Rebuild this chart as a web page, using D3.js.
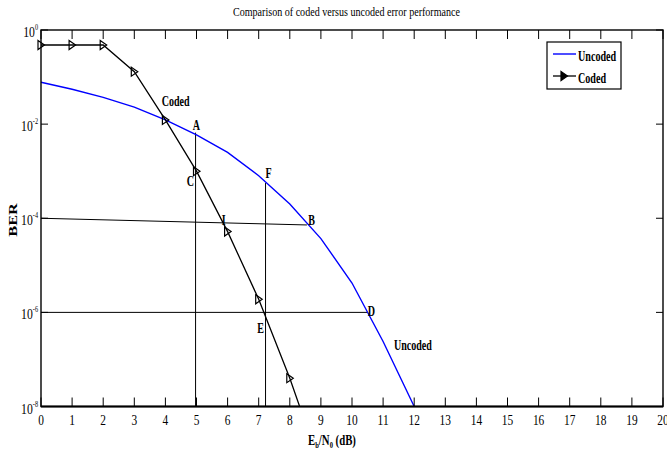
<!DOCTYPE html>
<html>
<head>
<meta charset="utf-8">
<script src="https://d3js.org/d3.v7.min.js"></script>
<style>
  body { margin: 0; background: #fff; }
  svg { display: block; font-family: "Liberation Serif", "Times New Roman", serif; }
</style>
</head>
<body>
<div id="chart"></div>
<script>
// ---- data ----
const ebnoUncoded = [0, 1, 2, 3, 4, 5, 6, 7, 8, 9, 10, 11, 12];
const berUncoded  = [0.0776, 0.055, 0.037, 0.023, 0.0123, 0.0059, 0.0025, 8.0e-4, 2.0e-4, 3.7e-5, 4.2e-6, 2.4e-7, 1.0e-8];

const ebnoCoded = [0, 1, 2, 3, 4, 5, 6, 7, 8, 9];
const berCoded  = [0.48, 0.48, 0.48, 0.13, 0.0123, 1.0e-3, 5.2e-5, 1.9e-6, 4.0e-8, 5.0e-10];

const xTicks = [0, 1, 2, 3, 4, 5, 6, 7, 8, 9, 10, 11, 12, 13, 14, 15, 16, 17, 18, 19, 20];
const yTicks = [1, 1e-2, 1e-4, 1e-6, 1e-8];
const yTickExp = ["0", "-2", "-4", "-6", "-8"];

// guide lines drawn on the chart (data units)
const guideLines = [
  { x1: 0,    y1: 1e-4,   x2: 8.55, y2: 7.2e-5 },
  { x1: 0,    y1: 1e-6,   x2: 10.5, y2: 1e-6 },
  { x1: 4.97, y1: 6.6e-3, x2: 4.97, y2: 1e-8 },
  { x1: 7.22, y1: 5.6e-4, x2: 7.22, y2: 1e-8 }
];

// point labels (data units, left/baseline)
const pointLabels = [
  { t: "Coded",   x: 3.88,  y: 0.0243 },
  { t: "A",       x: 4.88,  y: 7.5e-3 },
  { t: "C",       x: 4.69,  y: 4.9e-4 },
  { t: "F",       x: 7.22,  y: 7.2e-4 },
  { t: "B",       x: 8.59,  y: 7.2e-5 },
  { t: "I",       x: 5.81,  y: 7.2e-5 },
  { t: "E",       x: 6.95,  y: 3.7e-7 },
  { t: "D",       x: 10.51, y: 8.5e-7 },
  { t: "Uncoded", x: 11.35, y: 1.6e-7 }
];

const width = 667, height = 452;
const plot = { left: 41, right: 663, top: 30, bottom: 406.5 };

const svg = d3.select("#chart").append("svg")
  .attr("width", width)
  .attr("height", height);

const x = d3.scaleLinear().domain([0, 20]).range([plot.left, plot.right]);
const y = d3.scaleLog().domain([1e-8, 1]).range([plot.bottom, plot.top]);

// condensed serif text helper
function label(parent, px, py, str, o) {
  o = o || {};
  return parent.append("text")
    .attr("transform", `translate(${px},${py}) scale(${o.sx || 0.67},1)`)
    .attr("text-anchor", o.anchor || "start")
    .attr("font-size", o.size || 15)
    .attr("font-weight", o.weight || "normal")
    .attr("fill", "#000")
    .text(str);
}

svg.append("defs").append("clipPath").attr("id", "clip")
  .append("rect")
  .attr("x", plot.left - 6).attr("y", plot.top)
  .attr("width", plot.right - plot.left + 6)
  .attr("height", plot.bottom - plot.top);

const body = svg.append("g").attr("clip-path", "url(#clip)");

// guide lines
body.selectAll(".guide")
  .data(guideLines)
  .enter().append("line")
  .attr("x1", d => x(d.x1)).attr("y1", d => y(d.y1))
  .attr("x2", d => x(d.x2)).attr("y2", d => y(d.y2))
  .attr("stroke", "#000")
  .attr("stroke-width", 1);

// curves
const uncoded = ebnoUncoded.map((v, i) => [v, berUncoded[i]]);
const coded = ebnoCoded.map((v, i) => [v, berCoded[i]]);
const line = d3.line().x(d => x(d[0])).y(d => y(d[1]));

body.append("path")
  .datum(uncoded)
  .attr("d", line)
  .attr("fill", "none")
  .attr("stroke", "#0000ff")
  .attr("stroke-width", 1.4);

body.append("path")
  .datum(coded)
  .attr("d", line)
  .attr("fill", "none")
  .attr("stroke", "#000")
  .attr("stroke-width", 1.3);

const tri = "M-3,-4.5L3.5,0L-3,4.5Z";
body.selectAll(".mk")
  .data(coded)
  .enter().append("path")
  .attr("d", tri)
  .attr("transform", d => `translate(${x(d[0])},${y(d[1])})`)
  .attr("fill", "none")
  .attr("stroke", "#000")
  .attr("stroke-width", 1.2);

// labels on the chart
pointLabels.forEach(p => label(svg, x(p.x), y(p.y), p.t, { weight: "bold" }));

// ---- axes box and ticks ----
const axes = svg.append("g");

axes.selectAll(".xtb")
  .data(xTicks)
  .enter().append("line")
  .attr("x1", d => x(d)).attr("x2", d => x(d))
  .attr("y1", plot.bottom).attr("y2", plot.bottom - 9)
  .attr("stroke", "#000");
axes.selectAll(".xtt")
  .data(xTicks)
  .enter().append("line")
  .attr("x1", d => x(d)).attr("x2", d => x(d))
  .attr("y1", plot.top).attr("y2", plot.top + 9)
  .attr("stroke", "#000");
axes.selectAll(".ytl")
  .data(yTicks)
  .enter().append("line")
  .attr("x1", plot.left).attr("x2", plot.left + 7)
  .attr("y1", d => y(d)).attr("y2", d => y(d))
  .attr("stroke", "#000");
axes.selectAll(".ytr")
  .data(yTicks)
  .enter().append("line")
  .attr("x1", plot.right).attr("x2", plot.right - 7)
  .attr("y1", d => y(d)).attr("y2", d => y(d))
  .attr("stroke", "#000");

axes.append("rect")
  .attr("x", plot.left).attr("y", plot.top)
  .attr("width", plot.right - plot.left)
  .attr("height", plot.bottom - plot.top)
  .attr("fill", "none")
  .attr("stroke", "#000")
  .attr("stroke-width", 1.4);
axes.append("line")
  .attr("x1", plot.left).attr("x2", plot.right)
  .attr("y1", plot.bottom).attr("y2", plot.bottom)
  .attr("stroke", "#000")
  .attr("stroke-width", 2.2);

// tick labels
xTicks.forEach(t => label(svg, x(t), plot.bottom + 18, String(t), { anchor: "middle", sx: 0.76 }));

yTicks.forEach((t, i) => {
  const tx = svg.append("text")
    .attr("transform", `translate(${plot.left - 3},${y(t) + 7}) scale(0.78,1)`)
    .attr("text-anchor", "end")
    .attr("font-size", 15);
  tx.append("tspan").text("10");
  tx.append("tspan").attr("font-size", 8).attr("dy", -7).text(yTickExp[i]);
});

// title
svg.append("text")
  .attr("x", 346.5).attr("y", 16)
  .attr("text-anchor", "middle")
  .attr("font-size", 12)
  .attr("textLength", 227)
  .attr("lengthAdjust", "spacingAndGlyphs")
  .text("Comparison of coded versus uncoded error performance");

// x axis label: E_b/N_0 (dB)
const xl = svg.append("text")
  .attr("transform", "translate(332,445) scale(0.72,1)")
  .attr("text-anchor", "middle")
  .attr("font-size", 15)
  .attr("font-weight", "bold");
xl.append("tspan").text("E");
xl.append("tspan").attr("font-size", 9).attr("dy", 3).text("b");
xl.append("tspan").attr("dy", -3).text("/N");
xl.append("tspan").attr("font-size", 9).attr("dy", 3).text("0");
xl.append("tspan").attr("dy", -3).text(" (dB)");

// y axis label
svg.append("text")
  .attr("transform", "translate(17,220) rotate(-90) scale(1.25,1)")
  .attr("text-anchor", "middle")
  .attr("font-size", 13)
  .attr("font-weight", "bold")
  .text("BER");

// ---- legend ----
const lg = svg.append("g");
lg.append("rect")
  .attr("x", 547).attr("y", 42)
  .attr("width", 74).attr("height", 47)
  .attr("fill", "#fff")
  .attr("stroke", "#000")
  .attr("stroke-width", 1.2);
lg.append("line")
  .attr("x1", 553).attr("x2", 576).attr("y1", 54).attr("y2", 54)
  .attr("stroke", "#0000ff").attr("stroke-width", 1.4);
lg.append("line")
  .attr("x1", 553).attr("x2", 576).attr("y1", 76).attr("y2", 76)
  .attr("stroke", "#000").attr("stroke-width", 1.3);
lg.append("path")
  .attr("d", tri)
  .attr("transform", "translate(564,76)")
  .attr("fill", "#000")
  .attr("stroke", "#000")
  .attr("stroke-width", 1.2);
label(lg, 578, 61, "Uncoded", { weight: "bold", sx: 0.675 });
label(lg, 578, 83, "Coded", { weight: "bold", sx: 0.675 });
</script>
</body>
</html>
